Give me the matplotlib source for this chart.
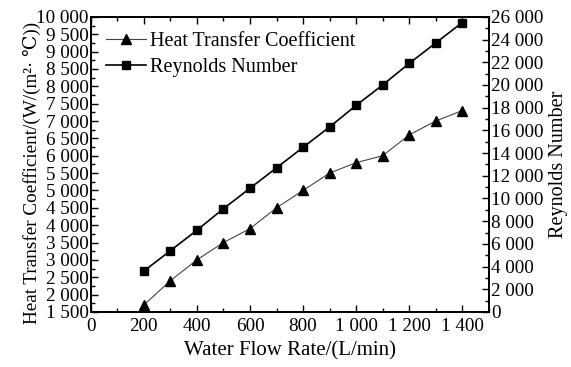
import matplotlib
matplotlib.use('Agg')
import matplotlib.pyplot as plt
from matplotlib.ticker import MultipleLocator, FuncFormatter

plt.rcParams['font.family'] = ['Liberation Serif', 'DejaVu Serif']

flow = [200, 300, 400, 500, 600, 700, 800, 900, 1000, 1100, 1200, 1300, 1400]
htc = [1700, 2400, 3000, 3500, 3900, 4500, 5000, 5500, 5800, 6000, 6600, 7000, 7300]
reynolds = [3600, 5400, 7200, 9100, 10900, 12700, 14500, 16300, 18200, 20000, 21900, 23700, 25500]


def thousands(v, pos):
    return '{:,.0f}'.format(v).replace(',', ' ')


fig = plt.figure(figsize=(5.71, 3.67), dpi=100)
ax = fig.add_axes([0.159, 0.150, 0.697, 0.804])
ax2 = ax.twinx()

l1, = ax.plot(flow, htc, color='#444444', lw=0.8, marker='^', ms=7,
              mfc='black', mec='black', label='Heat Transfer Coefficient')
l2, = ax2.plot(flow, reynolds, color='black', lw=1.2, marker='s', ms=5.5,
               mfc='black', mec='black', label='Reynolds Number')

ax.set_xlim(0, 1500)
ax.set_ylim(1500, 10000)
ax2.set_ylim(0, 26000)

ax.xaxis.set_major_locator(MultipleLocator(200))
ax.xaxis.set_minor_locator(MultipleLocator(100))
ax.yaxis.set_major_locator(MultipleLocator(500))
ax.yaxis.set_minor_locator(MultipleLocator(250))
ax2.yaxis.set_major_locator(MultipleLocator(2000))
ax2.yaxis.set_minor_locator(MultipleLocator(1000))
for a in (ax.xaxis, ax.yaxis, ax2.yaxis):
    a.set_major_formatter(FuncFormatter(thousands))

ax.tick_params(which='both', direction='in', top=True, right=False, labelsize=13.8, pad=1.5)
ax.tick_params(axis='x', pad=4)
ax.tick_params(which='major', length=5, width=1)
ax.tick_params(which='minor', length=3, width=1)
ax2.tick_params(which='both', direction='in', labelsize=13.8, pad=1.5)
ax2.tick_params(which='major', length=5, width=1)
ax2.tick_params(which='minor', length=3, width=1)
for s in ax.spines.values():
    s.set_linewidth(1.3)
for s in ax2.spines.values():
    s.set_linewidth(1.3)

ax.set_xlabel('Water Flow Rate/(L/min)', fontsize=15, labelpad=5)
ax.set_ylabel('Heat Transfer Coefficient/(W/(m²· ℃))', fontsize=13.8)
ax.yaxis.set_label_coords(-0.125, 0.47)
ax2.set_ylabel('Reynolds Number', fontsize=14.5, labelpad=4)

ax.legend(handles=[l1, l2], loc='upper left', frameon=False, fontsize=14.5,
          handlelength=2.0, handletextpad=0.2, borderaxespad=0.35, labelspacing=0.35,
          borderpad=0.4)

fig.savefig('out.png', dpi=100)
